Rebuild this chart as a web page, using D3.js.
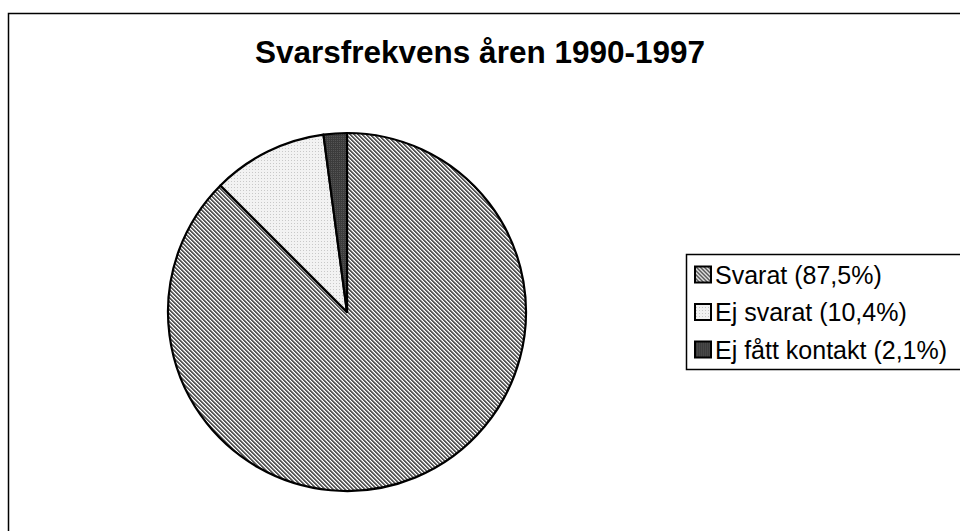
<html>
<head>
<meta charset="utf-8">
<style>
  body { margin: 0; background: #fff; }
  svg { display: block; font-family: Arial, "Liberation Sans", sans-serif; }
</style>
</head>
<body>
<svg width="960" height="531" class="chart"></svg>
<script src="https://d3js.org/d3.v7.min.js" charset="utf-8"></script>
<script>
    title = "Svarsfrekvens åren 1990-1997"
    categories = ["Svarat", "Ej svarat", "Ej fått kontakt"]
    values = [87.5, 10.4, 2.1]
    legendLabels = ["Svarat (87,5%)", "Ej svarat (10,4%)", "Ej fått kontakt (2,1%)"]
    patternIds = ["pat-svarat", "pat-ejsvarat", "pat-kontakt"]

    var svg = d3.select(".chart")
    var defs = svg.append("defs")

    // diagonal hatch, dark on white
    var p1 = defs.append("pattern").attr("id", "pat-svarat").attr("patternUnits", "userSpaceOnUse")
        .attr("width", 4).attr("height", 4)
    p1.append("rect").attr("width", 4).attr("height", 4).attr("fill", "#fff")
    p1.append("path").attr("d", "M0,0h1v1h-1z M1,1h1v1h-1z M2,2h1v1h-1z M3,3h1v1h-1z M1,0h1v1h-1z M2,1h1v1h-1z M3,2h1v1h-1z M0,3h1v1h-1z")
        .attr("fill", "#5a5a5a")
    p1.append("path").attr("d", "M2,0h1v1h-1z M3,1h1v1h-1z M0,2h1v1h-1z M1,3h1v1h-1z").attr("fill", "#b8b8b8")

    // light dotted
    var p2 = defs.append("pattern").attr("id", "pat-ejsvarat").attr("patternUnits", "userSpaceOnUse")
        .attr("width", 3).attr("height", 3)
    p2.append("rect").attr("width", 3).attr("height", 3).attr("fill", "#f2f2f2")
    p2.append("rect").attr("x", 1).attr("y", 1).attr("width", 1).attr("height", 1).attr("fill", "#c8c8c8")

    // dark fine texture
    var p3 = defs.append("pattern").attr("id", "pat-kontakt").attr("patternUnits", "userSpaceOnUse")
        .attr("width", 2).attr("height", 2)
    p3.append("rect").attr("width", 2).attr("height", 2).attr("fill", "#3c3c3c")
    p3.append("rect").attr("width", 1).attr("height", 1).attr("fill", "#555")

    // outer frame (runs off the right and bottom)
    svg.append("rect").attr("x", 8.5).attr("y", 13.5).attr("width", 980).attr("height", 560)
        .attr("fill", "none").attr("stroke", "#000").attr("stroke-width", 1.5)

    svg.append("text").attr("x", 480).attr("y", 63).attr("text-anchor", "middle")
        .attr("font-size", 31.5).attr("font-weight", "bold").text(title)

    var cx = 347, cy = 312, r = 179
    var pie = d3.pie().sort(null).value(function(d){ return d.v })
        .startAngle(0).endAngle(2 * Math.PI)
    var data = categories.map(function(c, i){ return {c: c, v: values[i], i: i} })
    var arc = d3.arc().innerRadius(0).outerRadius(r)

    var g = svg.append("g").attr("transform", "translate(" + cx + "," + cy + ")")
    g.selectAll("path").data(pie(data)).enter().append("path")
        .attr("d", arc)
        .attr("fill", function(d){ return "url(#" + patternIds[d.data.i] + ")" })
        .attr("stroke", "#000").attr("stroke-width", 2.2).attr("stroke-linejoin", "round")

    // legend (box runs past the right edge)
    var lx = 686.5, ly = 254.5
    svg.append("rect").attr("x", lx).attr("y", ly).attr("width", 300).attr("height", 115)
        .attr("fill", "#fff").attr("stroke", "#000").attr("stroke-width", 1.5)
    var rowY = d3.scalePoint().domain(categories).range([274.5, 349.5])
    var item = svg.selectAll(".leg").data(data).enter().append("g").attr("class", "leg")
        .attr("transform", function(d){ return "translate(" + 695 + "," + rowY(d.c) + ")" })
    item.append("rect").attr("x", 0).attr("y", -8).attr("width", 16).attr("height", 16)
        .attr("fill", function(d){ return "url(#" + patternIds[d.i] + ")" })
        .attr("stroke", "#000").attr("stroke-width", 2)
    item.append("text").attr("x", 20).attr("y", 9).attr("font-size", 25)
        .text(function(d){ return legendLabels[d.i] })
</script>
</body>
</html>
